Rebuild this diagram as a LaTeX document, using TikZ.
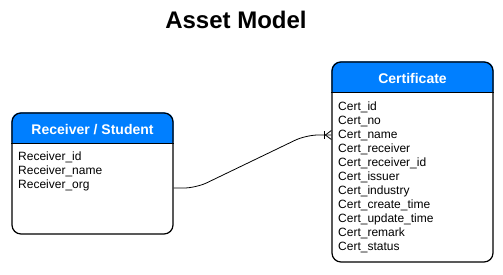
\documentclass[tikz,border=0pt]{standalone}
\usepackage{fontspec}
\setmainfont{Liberation Sans}
\usetikzlibrary{backgrounds}
\definecolor{headblue}{RGB}{0,127,255}
\tikzset{
  entity/.style={draw, line width=1.2pt, rounded corners=9pt, minimum width=161pt, inner sep=0pt},
  headtext/.style={anchor=base, text=white, inner sep=0pt, font=\fontsize{14}{16}\selectfont\bfseries},
  rows/.style={anchor=north west, align=left, inner sep=0pt, font=\fontsize{12}{14}\selectfont},
  conn/.style={line width=0.8pt},
}
\begin{document}
\begin{tikzpicture}[x=1pt, y=-1pt]
  \useasboundingbox (0,0) rectangle (503,274);

  \node[anchor=base, inner sep=0pt, font=\fontsize{24}{28}\selectfont\bfseries] (title) at (236,28.5) {Asset Model};

  % the two tables
  \node[entity, minimum height=121pt] (recv) at (92.5,173.5) {};
  \node[entity, minimum height=200pt] (cert) at (412.5,162) {};

  \begin{scope}[on background layer]
    \fill[headblue, rounded corners=9pt] (recv.north west) rectangle (recv.east |- 0,150);
    \fill[white] (recv.west |- 0,143) rectangle (recv.east |- 0,152);
    \fill[headblue, rounded corners=9pt] (cert.north west) rectangle (cert.east |- 0,99);
    \fill[white] (cert.west |- 0,92) rectangle (cert.east |- 0,101);
  \end{scope}
  \draw[line width=1pt] (recv.west |- 0,143) -- (recv.east |- 0,143);
  \draw[line width=1pt] (cert.west |- 0,92) -- (cert.east |- 0,92);

  \node[headtext] (recvhead) at (92.5,134) {Receiver / Student};
  \node[headtext] (certhead) at (412.5,83.3) {Certificate};

  \node[rows] (recvrows) at (18,152) {Receiver\_id\\Receiver\_name\\Receiver\_org};
  \node[rows] (certrows) at (338,101.5) {Cert\_id\\Cert\_no\\Cert\_name\\Cert\_receiver\\Cert\_receiver\_id\\Cert\_issuer\\Cert\_industry\\Cert\_create\_time\\Cert\_update\_time\\Cert\_remark\\Cert\_status};

  % one-to-many link
  \coordinate (foot) at ([yshift=27pt]cert.west);
  \draw[conn, rounded corners=12pt] ([yshift=-14.5pt]recv.east) -- (196,188) -- (306,135) -- (foot);
  \draw[conn] ([xshift=-6pt]foot) -- ([yshift=4.5pt]foot)
              ([xshift=-6pt]foot) -- ([yshift=-4.5pt]foot);
  \draw[conn] ([xshift=-7.5pt,yshift=4pt]foot) -- ([xshift=-7.5pt,yshift=-4pt]foot);
\end{tikzpicture}
\end{document}
